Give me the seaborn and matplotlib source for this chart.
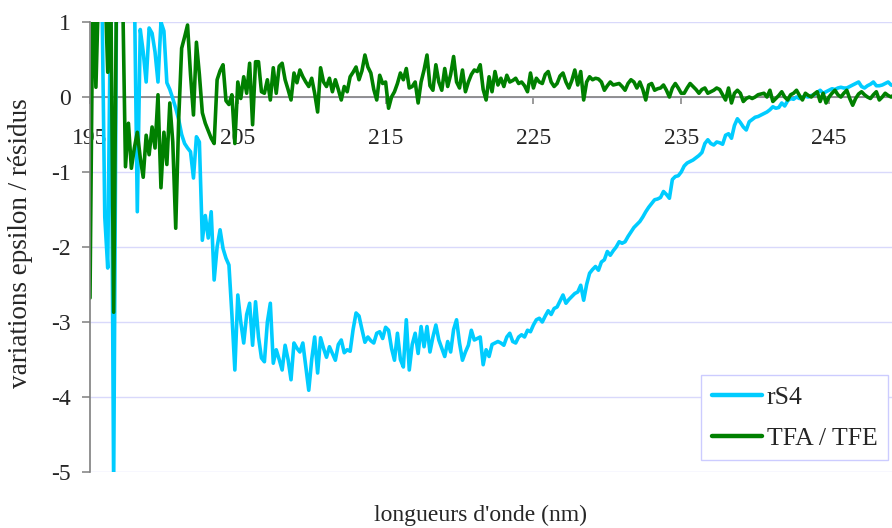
import matplotlib
matplotlib.use("Agg")
import matplotlib.pyplot as plt
import numpy as np
import pandas as pd
import seaborn as sns

# ---- data (0.2 nm steps from 195 nm) ----
rs4 = [
    1.5, 1.5, 1.5, 1.5, 1.5, -1.6, -2.28, 1.5, -5.2, 1.5,
    1.5, 1.5, 1.5, 1.5, 1.5, 1.5, -1.53, 0.9, 0.6, 0.2,
    0.92, 0.85, 0.6, 0.2, 1.0, 0.88, 0.19, 0.1, -0.02, -0.15,
    -0.3, -0.5, -0.62, -0.68, -0.73, -1.08, -0.53, -0.6, -1.91, -1.58,
    -1.88, -1.53, -2.44, -2.0, -1.77, -2.02, -2.15, -2.24, -2.9, -3.64,
    -2.64, -3.0, -3.28, -2.9, -2.75, -3.31, -2.73, -3.2, -3.48, -3.53,
    -3.0, -2.75, -3.55, -3.37, -3.5, -3.64, -3.31, -3.5, -3.77, -3.28,
    -3.35, -3.4, -3.28, -3.6, -3.91, -3.5, -3.2, -3.68, -3.21, -3.35,
    -3.47, -3.33, -3.42, -3.51, -3.3, -3.24, -3.41, -3.37, -3.39, -3.1,
    -2.88, -2.92, -3.1, -3.27, -3.2, -3.25, -3.28, -3.15, -3.13, -3.22,
    -3.07, -3.11, -3.35, -3.51, -3.15, -3.5, -3.6, -2.97, -3.64, -3.3,
    -3.15, -3.42, -3.06, -3.33, -3.06, -3.4, -3.2, -3.04, -3.24, -3.35,
    -3.46, -3.26, -3.4, -3.1, -2.97, -3.28, -3.51, -3.4, -3.31, -3.11,
    -3.24, -3.22, -3.2, -3.57, -3.37, -3.46, -3.3, -3.28, -3.26, -3.28,
    -3.31, -3.2, -3.15, -3.26, -3.28, -3.2, -3.17, -3.2, -3.11, -3.13,
    -3.04, -2.97, -2.95, -3.0, -2.92, -2.85, -2.9, -2.82, -2.8, -2.72,
    -2.64, -2.75, -2.7, -2.66, -2.62, -2.6, -2.51, -2.71, -2.5, -2.35,
    -2.3, -2.26, -2.31, -2.2, -2.17, -2.06, -2.11, -2.05, -2.0, -1.93,
    -1.95, -1.93, -1.86, -1.8, -1.74, -1.7, -1.66, -1.6, -1.53, -1.47,
    -1.42, -1.37, -1.36, -1.34, -1.26, -1.3, -1.35, -1.1, -1.06, -1.05,
    -1.0, -0.92, -0.88, -0.86, -0.84, -0.81, -0.78, -0.74, -0.62, -0.57,
    -0.62, -0.64, -0.6, -0.61, -0.63, -0.51, -0.49, -0.55, -0.38, -0.29,
    -0.34, -0.4, -0.44, -0.33, -0.3, -0.27, -0.26, -0.24, -0.22, -0.2,
    -0.17, -0.13, -0.15, -0.14, -0.08, -0.12, -0.05, -0.02, -0.03, 0.0,
    -0.02, 0.0, 0.01, 0.0, 0.02, 0.03, 0.06, 0.09, 0.05, 0.07,
    0.09, 0.11, 0.1, 0.12, 0.13, 0.12, 0.12, 0.14, 0.16, 0.18,
    0.2, 0.14, 0.12, 0.15, 0.17, 0.2, 0.15, 0.15, 0.16, 0.18,
    0.2, 0.16, 0.15, 0.17, 0.18, 0.16,
]

tfa_tfe = [
    -2.68, 1.6, 0.13, 1.6, 1.6, 1.6, 0.33, 1.6, -2.87, 1.6,
    1.4, 1.5, -0.93, -0.35, -0.95, -0.68, -0.47, -0.81, -1.07, -0.51,
    -0.77, -0.4, -0.68, 0.03, -1.21, -0.47, -0.9, -0.08, -0.6, -1.75,
    -0.3, 0.65, 0.8, 0.96, 0.3, -0.24, 0.73, 0.3, -0.21, -0.35,
    -0.45, -0.55, -0.62, 0.23, 0.35, 0.43, -0.05, -0.1, 0.03, -0.62,
    0.2, -0.02, 0.27, 0.05, 0.45, -0.37, 0.47, 0.47, 0.07, 0.05,
    0.23, -0.04, 0.39, 0.05, 0.41, 0.45, 0.23, 0.1, -0.04, 0.32,
    0.19, 0.36, 0.27, 0.2, 0.14, 0.25, 0.05, -0.2, 0.39, 0.2,
    0.14, 0.25, 0.07, 0.23, 0.1, -0.04, 0.14, 0.07, 0.27, 0.33,
    0.4, 0.23, 0.35, 0.56, 0.4, 0.32, 0.1, -0.04, 0.29, 0.18,
    0.2, -0.15, 0.0, 0.07, 0.18, 0.32, 0.23, 0.38, 0.12, 0.14,
    0.2, -0.08, 0.2, 0.36, 0.56, 0.15, 0.09, 0.43, 0.2, 0.09,
    0.38, 0.14, 0.3, 0.54, 0.2, 0.12, 0.36, 0.07, 0.2, 0.3,
    0.36, 0.34, 0.43, 0.1, -0.04, 0.27, 0.07, 0.34, 0.16, 0.25,
    0.14, 0.29, 0.2, 0.22, 0.25, 0.18, 0.2, 0.15, 0.07, 0.32,
    0.12, 0.25, 0.2, 0.18, 0.3, 0.34, 0.2, 0.14, 0.18, 0.28,
    0.32, 0.2, 0.12, 0.22, 0.36, 0.16, 0.34, -0.04, 0.2, 0.27,
    0.23, 0.25, 0.24, 0.2, 0.09, 0.15, 0.2, 0.16, 0.17, 0.18,
    0.14, 0.09, 0.18, 0.23, 0.2, 0.12, 0.2, 0.1, -0.04, 0.16,
    0.18, 0.09, 0.11, 0.12, 0.16, 0.09, 0.0, 0.12, 0.18, 0.12,
    0.05, 0.05, 0.12, 0.18, 0.14, 0.1, 0.05, 0.1, 0.12, 0.05,
    0.07, 0.09, 0.12, 0.1, 0.03, -0.04, 0.12, -0.08, 0.05, 0.09,
    0.05, -0.06, -0.02, 0.0, -0.02, 0.0, 0.03, 0.04, 0.05, 0.0,
    0.09, -0.06, -0.02, 0.02, 0.07, 0.0, -0.04, 0.03, 0.05, 0.09,
    0.02, -0.04, 0.05, 0.02, 0.0, 0.04, 0.07, -0.06, 0.05, -0.08,
    0.0, 0.05, 0.09, 0.03, 0.0, 0.05, 0.09, -0.02, -0.11, -0.02,
    0.04, 0.07, 0.03, 0.0, -0.02, 0.03, 0.07, -0.04, 0.0, 0.05,
    0.02, 0.0, 0.03, 0.02, 0.0, 0.02,
]

wavelengths = [round(195 + 0.2 * i, 1) for i in range(len(rs4))]
series_names = ["rS4", "TFA / TFE"]
x_ticks = [195, 205, 215, 225, 235, 245]
y_ticks = [-5, -4, -3, -2, -1, 0, 1]

n = len(wavelengths)
df = pd.DataFrame({
    "nm": wavelengths + wavelengths[:len(tfa_tfe)],
    "val": rs4 + tfa_tfe,
    "serie": [series_names[0]] * n + [series_names[1]] * len(tfa_tfe),
})

sns.set_style("white")
plt.rcParams["font.family"] = ["Liberation Serif", "DejaVu Serif"]
plt.rcParams["axes.unicode_minus"] = False

W, H = 892, 528
fig = plt.figure(figsize=(W / 100, H / 100), dpi=100)
ax = fig.add_axes([90 / W, 1 - 472 / H, 802 / W, 450 / H])

sns.lineplot(data=df, x="nm", y="val", hue="serie", hue_order=series_names,
             palette={"rS4": "#00CCFF", "TFA / TFE": "#008000"},
             linewidth=2.6, estimator=None, sort=False, ax=ax)

ax.set_xlim(195, 249.26)
ax.set_ylim(-5, 1)
ax.set_yticks(y_ticks)
ax.set_yticklabels([str(v) for v in y_ticks])
ax.set_xticks(x_ticks)
ax.set_xticklabels([str(v) for v in x_ticks])

ax.grid(axis="y", color="#d9d9fb", linewidth=1.0)
ax.grid(axis="x", visible=False)
ax.set_axisbelow(True)

for s in ["top", "right"]:
    ax.spines[s].set_visible(False)
ax.spines["left"].set_color("#7f7f7f")
ax.spines["left"].set_linewidth(1.2)
ax.spines["bottom"].set_position(("data", 0))
ax.spines["bottom"].set_color("#7f7f7f")
ax.spines["bottom"].set_linewidth(1.2)
ax.spines["bottom"].set_zorder(1.5)

ax.tick_params(axis="y", direction="out", length=6, width=1.1, color="#7f7f7f",
               labelsize=17, pad=8, left=True)
ax.tick_params(axis="x", direction="out", length=5, width=1.1, color="#7f7f7f",
               labelsize=17, pad=17, bottom=True)

ax.set_xlabel("")
ax.set_ylabel("")
fig.text(481 / W, 1 - 515 / H, "longueurs d'onde (nm)", ha="center", va="center",
         fontsize=17)
fig.text(21 / W, 1 - 243 / H, "variations epsilon / résidus", ha="center",
         va="center", rotation=90, fontsize=19.5)

handles, labels = ax.get_legend_handles_labels()
if ax.get_legend() is not None:
    ax.get_legend().remove()
leg = ax.legend(handles, labels, loc="lower right", bbox_to_anchor=(0.995, 0.027),
                borderaxespad=0, frameon=True, fancybox=False, framealpha=1,
                edgecolor="#ccccff", fontsize=18.5, handlelength=1.95,
                handletextpad=0.2, labelspacing=0.7, borderpad=0.4)
leg.get_frame().set_linewidth(1.0)
for h in leg.get_lines():
    h.set_linewidth(3.2)

fig.savefig("out.png", dpi=100)
